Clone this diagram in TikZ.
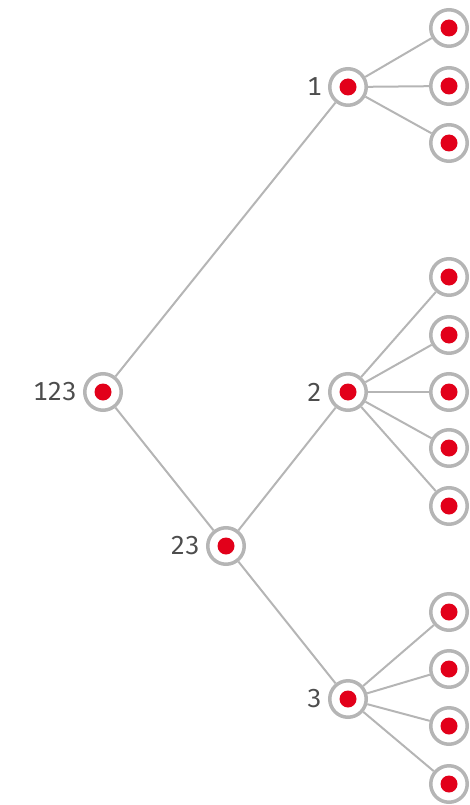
\documentclass[tikz,border=0pt]{standalone}
\usepackage{fontspec}
\setmainfont[Numbers=Monospaced]{Fira Sans}
\definecolor{edgegray}{HTML}{B5B5B5}
\definecolor{dotred}{HTML}{E2001A}
\definecolor{labelgray}{HTML}{4D4D4D}
\tikzset{
  vertex/.style={circle, draw=edgegray, line width=3.5pt, fill=white,
    minimum size=36.5pt, inner sep=0pt,
    path picture={\fill[dotred] (path picture bounding box.center) circle (8.5pt);}},
  vlabel/.style={label={[labelgray, inner sep=6pt, font=\fontsize{26}{26}\selectfont]left:#1}},
  branch/.style={draw=edgegray, line width=2pt}
}
\begin{document}
\begin{tikzpicture}[x=1pt,y=-1pt]
        \useasboundingbox (0,0) rectangle (470,805);
        % --- inner nodes ---
        \node[vertex,vlabel=123] (n123) at (103,392) {};
        \node[vertex,vlabel=23]  (n23)  at (226,546) {};
        \node[vertex,vlabel=1]   (n1)   at (348,87)  {};
        \node[vertex,vlabel=2]   (n2)   at (348,392) {};
        \node[vertex,vlabel=3]   (n3)   at (348,699) {};
        \draw[branch] (n123) -- (n1);
        \draw[branch] (n123) -- (n23);
        \draw[branch] (n23) -- (n2);
        \draw[branch] (n23) -- (n3);
        % --- leaves ---
        \foreach \y [count=\i] in {28,86,143} {
            \node[vertex] (a\i) at (449,\y) {};
            \draw[branch] (n1) -- (a\i);
        }
        \foreach \y [count=\i] in {277,335,392,448,506} {
            \node[vertex] (b\i) at (449,\y) {};
            \draw[branch] (n2) -- (b\i);
        }
        \foreach \y [count=\i] in {612,669,726,784} {
            \node[vertex] (c\i) at (449,\y) {};
            \draw[branch] (n3) -- (c\i);
        }
\end{tikzpicture}
\end{document}
